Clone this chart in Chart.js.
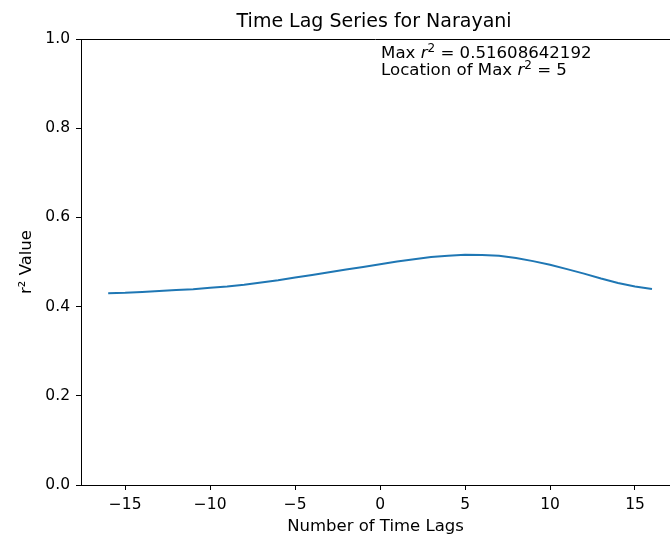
<!DOCTYPE html>
<html>
<head>
<meta charset="utf-8">
<script src="https://cdn.jsdelivr.net/npm/chart.js@4.4.0/dist/chart.umd.min.js"></script>
<style>
  html, body { margin: 0; padding: 0; background: #fff; overflow: hidden; }
  canvas { display: block; }
</style>
</head>
<body>
<canvas id="lagChart" width="670" height="537"></canvas>
<script>
// values
const lags = [-16, -15, -14, -13, -12, -11, -10, -9, -8, -7, -6, -5, -4, -3, -2, -1, 0,
  1, 2, 3, 4, 5, 6, 7, 8, 9, 10, 11, 12, 13, 14, 15, 16];
const r2Values = [0.430, 0.431, 0.433, 0.435, 0.437, 0.439, 0.442, 0.445, 0.449, 0.454, 0.459,
  0.465, 0.471, 0.477, 0.483, 0.489, 0.495, 0.501, 0.506, 0.511, 0.514, 0.51608642192,
  0.5158, 0.5138, 0.509, 0.502, 0.494, 0.484, 0.474, 0.463, 0.453, 0.445, 0.4395];
const xTicks = [-15, -10, -5, 0, 5, 10, 15];
const yTicks = [0.0, 0.2, 0.4, 0.6, 0.8, 1.0];
const maxR2 = 0.51608642192;
const maxLag = 5;
const chartTitle = 'Time Lag Series for Narayani';

const FONT = 'DejaVu Sans';

// text with an italic r and a raised 2, like matplotlib mathtext
function drawMathLine(ctx, x, y, parts, size) {
  let cx = x;
  parts.forEach(p => {
    if (p.sup) {
      ctx.font = `${Math.round(size * 0.7)}px "${FONT}"`;
      ctx.fillText(p.t, cx, y - size * 0.38);
    } else {
      ctx.font = `${p.it ? 'italic ' : ''}${size}px "${FONT}"`;
      ctx.fillText(p.t, cx, y);
    }
    cx += ctx.measureText(p.t).width;
  });
}

const extras = {
  id: 'extras',
  afterDraw(chart) {
    const { ctx, chartArea, scales } = chart;
    ctx.save();
    // top spine
    ctx.strokeStyle = '#000';
    ctx.lineWidth = 1;
    ctx.beginPath();
    ctx.moveTo(chartArea.left, chartArea.top + 0.5);
    ctx.lineTo(chartArea.right, chartArea.top + 0.5);
    ctx.stroke();

    // title, centred on the full axes
    const axCenter = (scales.x.getPixelForValue(-17.6) + scales.x.getPixelForValue(17.6)) / 2;
    ctx.fillStyle = '#000';
    ctx.textAlign = 'center';
    ctx.textBaseline = 'alphabetic';
    ctx.font = `19px "${FONT}"`;
    ctx.fillText(chartTitle, axCenter - 6, 27);

    // max r2 note
    ctx.textAlign = 'left';
    const tx = scales.x.getPixelForValue(0) + 1;
    drawMathLine(ctx, tx, 58, [{ t: 'Max ' }, { t: 'r', it: true }, { t: '2', sup: true },
      { t: ' = ' + maxR2 }], 16.6);
    drawMathLine(ctx, tx, 75, [{ t: 'Location of Max ' }, { t: 'r', it: true }, { t: '2', sup: true },
      { t: ' = ' + maxLag }], 16.6);
    ctx.restore();
  }
};

new Chart(document.getElementById('lagChart'), {
  type: 'line',
  data: {
    datasets: [{
      data: lags.map((l, i) => ({ x: l, y: r2Values[i] })),
      borderColor: '#1f77b4',
      borderWidth: 2,
      pointRadius: 0,
      tension: 0,
      fill: false
    }]
  },
  options: {
    responsive: false,
    animation: false,
    layout: { padding: { top: 39, left: 0, right: 0, bottom: 0 } },
    plugins: { legend: { display: false }, tooltip: { enabled: false } },
    scales: {
      x: {
        type: 'linear',
        min: -17.6,
        max: 17.06,
        afterBuildTicks: s => { s.ticks = xTicks.map(v => ({ value: v })); },
        afterFit: s => { s.height = 52; },
        grid: { drawOnChartArea: false, drawTicks: true, tickLength: 5, color: '#000' },
        border: { display: true, color: '#000', width: 1 },
        ticks: {
          color: '#000',
          padding: 6,
          maxRotation: 0,
          font: { family: FONT, size: 15.5 },
          callback: v => String(v).replace('-', '\u2212')
        },
        title: {
          display: true,
          text: 'Number of Time Lags',
          color: '#000',
          font: { family: FONT, size: 16.5 },
          padding: { top: 0, bottom: 0 }
        }
      },
      y: {
        min: 0,
        max: 1,
        afterBuildTicks: s => { s.ticks = yTicks.map(v => ({ value: v })); },
        afterFit: s => { s.width = 81; },
        grid: { drawOnChartArea: false, drawTicks: true, tickLength: 5, color: '#000' },
        border: { display: true, color: '#000', width: 1 },
        ticks: {
          color: '#000',
          padding: 6,
          font: { family: FONT, size: 15.5 },
          callback: v => Number(v).toFixed(1)
        },
        title: {
          display: true,
          text: 'r\u00b2 Value',
          color: '#000',
          font: { family: FONT, size: 16.5 },
          padding: { top: 17, bottom: 0 }
        }
      }
    }
  },
  plugins: [extras]
});
</script>
</body>
</html>
